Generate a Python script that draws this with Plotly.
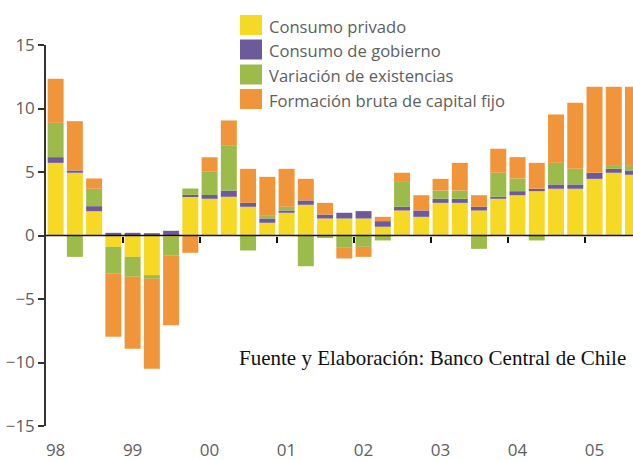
import plotly.graph_objects as go

# ---------------- data ----------------
quarters = [
    "1998-I", "1998-II", "1998-III", "1998-IV",
    "1999-I", "1999-II", "1999-III", "1999-IV",
    "2000-I", "2000-II", "2000-III", "2000-IV",
    "2001-I", "2001-II", "2001-III", "2001-IV",
    "2002-I", "2002-II", "2002-III", "2002-IV",
    "2003-I", "2003-II", "2003-III", "2003-IV",
    "2004-I", "2004-II", "2004-III", "2004-IV",
    "2005-I", "2005-II", "2005-III",
]
year_labels = ["98", "99", "00", "01", "02", "03", "04", "05"]

consumo_privado = [5.72, 4.94, 1.91, -0.89, -1.68, -3.12, -0.10, 3.05,
                   2.89, 3.05, 2.26, 1.00, 1.79, 2.42, 1.34, 1.34,
                   1.34, 0.69, 1.97, 1.47, 2.57, 2.57, 1.97, 2.89,
                   3.17, 3.49, 3.68, 3.68, 4.46, 4.94, 4.78]
consumo_gobierno = [0.45, 0.18, 0.40, 0.21, 0.21, 0.18, 0.37, 0.15,
                    0.30, 0.49, 0.31, 0.34, 0.18, 0.34, 0.31, 0.45,
                    0.58, 0.44, 0.29, 0.50, 0.32, 0.32, 0.29, 0.16,
                    0.32, 0.19, 0.34, 0.34, 0.48, 0.31, 0.34]
variacion_existencias = [2.70, -1.68, 1.37, -2.08, -1.57, -0.29, -1.45, 0.50,
                         1.83, 3.57, -1.18, 0.26, 0.29, -2.42, -0.20, -0.92,
                         -0.89, -0.39, 2.02, 0.00, 0.65, 0.65, -1.05, 1.89,
                         1.00, -0.39, 1.70, 1.23, 0.00, 0.29, 0.42]
formacion_bruta = [3.47, 3.88, 0.81, -5.01, -5.67, -7.09, -5.51, -1.36,
                   1.14, 1.95, 2.68, 3.02, 2.99, 1.70, 0.92, -0.89,
                   -0.79, 0.34, 0.66, 1.20, 0.92, 2.18, 0.91, 1.89,
                   1.68, 2.04, 3.81, 5.20, 6.77, 6.17, 6.17]

series_names = ["Consumo privado", "Consumo de gobierno",
                "Variación de existencias", "Formación bruta de capital fijo"]
series_values = [consumo_privado, consumo_gobierno, variacion_existencias, formacion_bruta]
series_colors = ["#F5D924", "#6C5A9A", "#9DBB4A", "#F0953A"]

source_text = "Fuente y Elaboración: Banco Central de Chile"

# ---------------- layout constants ----------------
W, H = 633, 460
PLOT_L, PLOT_R, PLOT_T, PLOT_B = 46, 633, 45, 426
SANS = "Open Sans, Noto Sans, sans-serif"
GRAY = "#5e5e5e"

x_idx = list(range(len(quarters)))
year_pos = x_idx[::4]
boundary_pos = [p - 0.5 for p in year_pos[1:]]


def px_x(p):
    return (p - PLOT_L) / (PLOT_R - PLOT_L)


def px_y(p):
    return (PLOT_B - p) / (PLOT_B - PLOT_T)


fig = go.Figure()
for name, vals, col in zip(series_names, series_values, series_colors):
    fig.add_trace(go.Bar(x=x_idx, y=vals, name=name, marker_color=col,
                         marker_line_width=0, showlegend=False,
                         customdata=quarters,
                         hovertemplate="%{customdata}: %{y}<extra>" + name + "</extra>"))

# invisible helper trace so the tick-mark axis on the zero line is drawn
fig.add_trace(go.Scatter(x=x_idx, y=consumo_privado, xaxis="x2", mode="none",
                         showlegend=False, hoverinfo="skip"))

shapes = [dict(type="line", xref="paper", x0=0, x1=1, yref="y", y0=0, y1=0,
               line=dict(color="#111111", width=1.6), layer="above")]
annotations = []

# manual legend
row_top = [15, 39.5, 64.5, 89]
for top, name, col in zip(row_top, series_names, series_colors):
    shapes.append(dict(type="rect", xref="paper", yref="paper",
                       x0=px_x(240), x1=px_x(262), y0=px_y(top + 20), y1=px_y(top),
                       fillcolor=col, line=dict(width=0), layer="above"))
    annotations.append(dict(text=name, xref="paper", yref="paper",
                            x=px_x(267), y=px_y(top + 11), xanchor="left", yanchor="middle",
                            showarrow=False, font=dict(family=SANS, size=16.6, color=GRAY)))

annotations.append(dict(text=source_text, xref="paper", yref="paper",
                        x=px_x(628), y=px_y(358), xanchor="right", yanchor="middle",
                        showarrow=False,
                        font=dict(family="Liberation Serif, Times New Roman, serif", size=21,
                                  color="#111111")))

fig.update_layout(
    width=W, height=H,
    margin=dict(l=PLOT_L, r=W - PLOT_R, t=PLOT_T, b=H - PLOT_B, pad=0),
    paper_bgcolor="white", plot_bgcolor="white",
    barmode="relative", bargap=0.17,
    showlegend=False,
    shapes=shapes, annotations=annotations,
    xaxis=dict(range=[-0.5, 30.0], tickmode="array", tickvals=year_pos, ticktext=year_labels,
               ticks="", showline=False, showgrid=False, zeroline=False,
               tickfont=dict(family=SANS, size=17, color=GRAY), ticklabelstandoff=12),
    xaxis2=dict(overlaying="x", anchor="free", position=0.5, side="bottom",
                range=[-0.5, 30.0], tickmode="array", tickvals=boundary_pos,
                ticks="outside", ticklen=6, tickwidth=1.6, tickcolor="#111111",
                showticklabels=False, showline=False, showgrid=False, zeroline=False),
    yaxis=dict(range=[-15, 15], tickmode="array", tickvals=[-15, -10, -5, 0, 5, 10, 15],
               ticks="outside", ticklen=6, tickwidth=1.5, tickcolor="#333333",
               showline=True, linecolor="#333333", linewidth=1.5,
               showgrid=False, zeroline=False,
               tickfont=dict(family=SANS, size=17, color=GRAY)),
)

fig.write_html("out.html",
               config={"displayModeBar": False},
               post_script="document.body.style.margin='0';document.body.style.overflow='hidden';")
